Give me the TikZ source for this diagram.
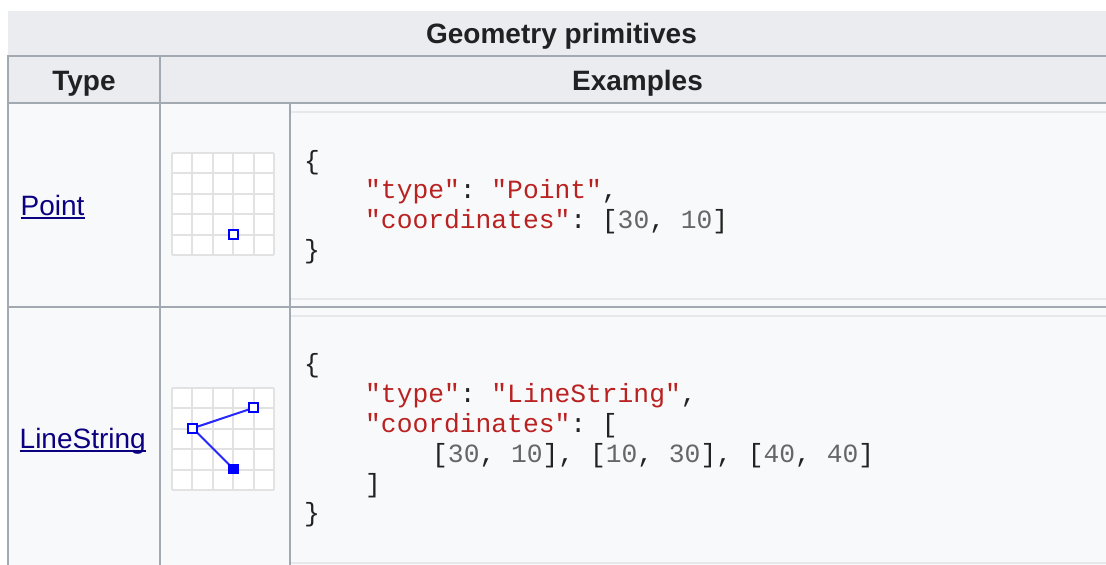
\documentclass[tikz,border=0pt]{standalone}
\usepackage{fontspec}
\setmainfont{Liberation Sans}
\setmonofont{Liberation Mono}
\definecolor{hdrbg}{HTML}{EAECF0}
\definecolor{bodybg}{HTML}{F8F9FA}
\definecolor{tline}{HTML}{A2A9B1}
\definecolor{preline}{HTML}{E6E8EC}
\definecolor{txt}{HTML}{202122}
\definecolor{linkc}{HTML}{0B0080}
\definecolor{strc}{HTML}{BA2121}
\definecolor{numc}{HTML}{666666}
\definecolor{punc}{HTML}{222222}
\definecolor{gridc}{HTML}{E2E2E2}
\definecolor{geoc}{HTML}{0000FF}
\newcommand{\ks}[1]{\textcolor{strc}{#1}}
\newcommand{\kn}[1]{\textcolor{numc}{#1}}
\tikzset{
  tableline/.style={draw=tline, line width=2pt},
  preborder/.style={draw=preline, line width=2pt},
  hdrtext/.style={inner sep=0pt, anchor=base, text=txt, font=\bfseries\fontsize{28}{32}\selectfont},
  linktext/.style={inner sep=0pt, anchor=base west, text=linkc, font=\fontsize{28}{32}\selectfont},
  codeline/.style={inner sep=0pt, anchor=base west, text=punc, font=\ttfamily\fontsize{26.3}{30}\selectfont},
  gridbox/.style={fill=white},
  gridlines/.style={draw=gridc, line width=2pt},
  vtxopen/.style={draw=geoc, fill=white, line width=1.8pt, minimum size=9pt, inner sep=0pt, rectangle},
  vtxfull/.style={draw=geoc, fill=geoc, line width=1.8pt, minimum size=9pt, inner sep=0pt, rectangle},
  geoline/.style={draw=geoc!85!white, line width=2pt},
  underl/.style={draw=linkc, line width=2pt},
}
\begin{document}
\begin{tikzpicture}[x=1pt,y=-1pt]
\useasboundingbox (0,0) rectangle (1106,565);
\fill[white] (0,0) rectangle (1106,565);
% backgrounds
\fill[hdrbg] (8,11) rectangle (1106,103);
\fill[bodybg] (8,103) rectangle (1106,565);
% pre box borders
\draw[preborder] (291,112) -- (1106,112);
\draw[preborder] (291,299) -- (1106,299);
\draw[preborder] (291,316) -- (1106,316);
\draw[preborder] (291,563) -- (1106,563);
% table lines
\draw[tableline] (8,56) -- (1106,56);
\draw[tableline] (8,103) -- (1106,103);
\draw[tableline] (8,307) -- (1106,307);
\draw[tableline] (8,55) -- (8,565);
\draw[tableline] (160,55) -- (160,565);
\draw[tableline] (290,103) -- (290,565);
% headers
\node[hdrtext] (cap) at (561.5,43) {Geometry primitives};
\node[hdrtext] (htype) at (84,90) {Type};
\node[hdrtext] (hex) at (637.5,90) {Examples};
% links
\node[linktext] (lpoint) at (20.5,215) {Point};
\draw[underl] ([yshift=-3.3pt]lpoint.base west) -- ([yshift=-3.3pt]lpoint.base east);
\node[linktext] (lline) at (19.5,448) {LineString};
\draw[underl] ([yshift=-3.3pt]lline.base west) -- ([yshift=-3.3pt]lline.base east);
% grid 1
\fill[gridbox] (172,153) rectangle (274,255);
\foreach \i in {0,...,5} {
  \draw[gridlines] (172+20.4*\i,153) -- (172+20.4*\i,255);
  \draw[gridlines] (172,153+20.4*\i) -- (274,153+20.4*\i);
}
\node[vtxopen] (p1) at (233.5,234.7) {};
% grid 2
\fill[gridbox] (172,388) rectangle (274,490);
\foreach \i in {0,...,5} {
  \draw[gridlines] (172+20.4*\i,388) -- (172+20.4*\i,490);
  \draw[gridlines] (172,388+20.4*\i) -- (274,388+20.4*\i);
}
\coordinate (la) at (233.5,469);
\coordinate (lb) at (192.8,428.2);
\coordinate (lc) at (253.8,407.8);
\draw[geoline] (la) -- (lb) -- (lc);
\node[vtxfull] (v1) at (la) {};
\node[vtxopen] (v2) at (lb) {};
\node[vtxopen] (v3) at (lc) {};
% code row 1
\node[codeline] (a1) at (304,169) {\{};
\node[codeline] (a2) at (365,198.8) {\ks{"type"}: \ks{"Point"},};
\node[codeline] (a3) at (365,228.6) {\ks{"coordinates"}: [\kn{30}, \kn{10}]};
\node[codeline] (a4) at (304,258.4) {\}};
% code row 2
\node[codeline] (b1) at (304,372.8) {\{};
\node[codeline] (b2) at (365,402.6) {\ks{"type"}: \ks{"LineString"},};
\node[codeline] (b3) at (365,432.4) {\ks{"coordinates"}: [};
\node[codeline] (b4) at (432,462.2) {[\kn{30}, \kn{10}], [\kn{10}, \kn{30}], [\kn{40}, \kn{40}]};
\node[codeline] (b5) at (365,492) {]};
\node[codeline] (b6) at (304,521.8) {\}};
\end{tikzpicture}
\end{document}
